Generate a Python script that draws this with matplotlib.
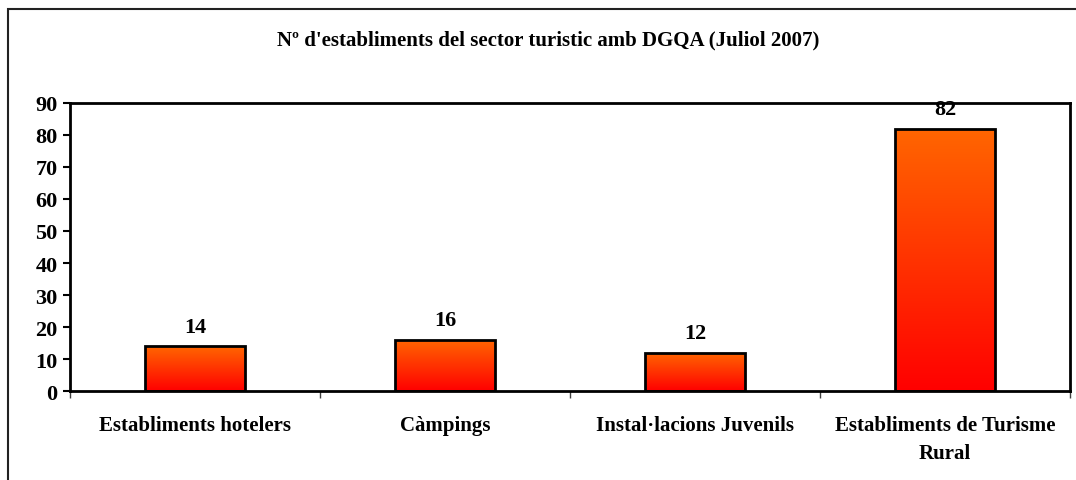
import matplotlib.pyplot as plt
import matplotlib.patches as mpatches
import numpy as np

categories = ["Establiments hotelers", "Càmpings", "Instal·lacions Juvenils",
              "Establiments de Turisme\nRural"]
values = [14, 16, 12, 82]
title = "Nº d'establiments del sector turistic amb DGQA (Juliol 2007)"

plt.rcParams['font.family'] = ['Liberation Serif', 'DejaVu Serif']
plt.rcParams['font.weight'] = 'bold'

fig = plt.figure(figsize=(10.76, 4.81), dpi=100)
ax = fig.add_axes([70/1076, 1-392/481, 1000/1076, 288/481])

x = np.arange(len(values))
bars = ax.bar(x, values, width=0.4, color='none', edgecolor='black', linewidth=2, zorder=3)

# vertical gradient orange -> red for each bar
grad = np.linspace(1, 0, 256).reshape(-1, 1)
cmap = plt.matplotlib.colors.LinearSegmentedColormap.from_list('og', ['#ff0000', '#ff6600'])
for b in bars:
    bx, bw, bh = b.get_x(), b.get_width(), b.get_height()
    im = ax.imshow(grad, cmap=cmap, aspect='auto', extent=[bx, bx + bw, 0, bh],
                   origin='upper', zorder=2, vmin=0, vmax=1)
    im.set_clip_path(b)
    ax.text(bx + bw/2, bh + 3.0, str(int(bh)), ha='center', va='bottom',
            fontsize=16, fontweight='bold', zorder=4)

ax.set_xlim(-0.5, 3.5)
ax.set_ylim(0, 90)
ax.set_yticks(range(0, 91, 10))
ax.set_xticks(x)
ax.set_xticklabels(categories, fontsize=15, fontweight='bold', linespacing=1.55)
ax.set_xticks(np.arange(-0.5, 4, 1), minor=True)
ax.tick_params(axis='x', which='major', length=0, pad=17)
ax.tick_params(axis='x', which='minor', length=5, width=1, color='#404040')
ax.tick_params(axis='y', length=5, width=1.5, pad=4, labelsize=16)
for lbl in ax.get_yticklabels():
    lbl.set_fontweight('bold')

for s in ax.spines.values():
    s.set_linewidth(2)
    s.set_color('black')

fig.text(548/1076, 1-40/481, title, ha='center', va='center', fontsize=15, fontweight='bold')

# outer chart border (only left and top visible)
fig.patches.append(mpatches.Rectangle((8/1076, -0.2), 2, 1.2 - 10/481,
                                      transform=fig.transFigure, fill=False,
                                      edgecolor='#222222', linewidth=1.5))

fig.savefig('out.png', dpi=100)
